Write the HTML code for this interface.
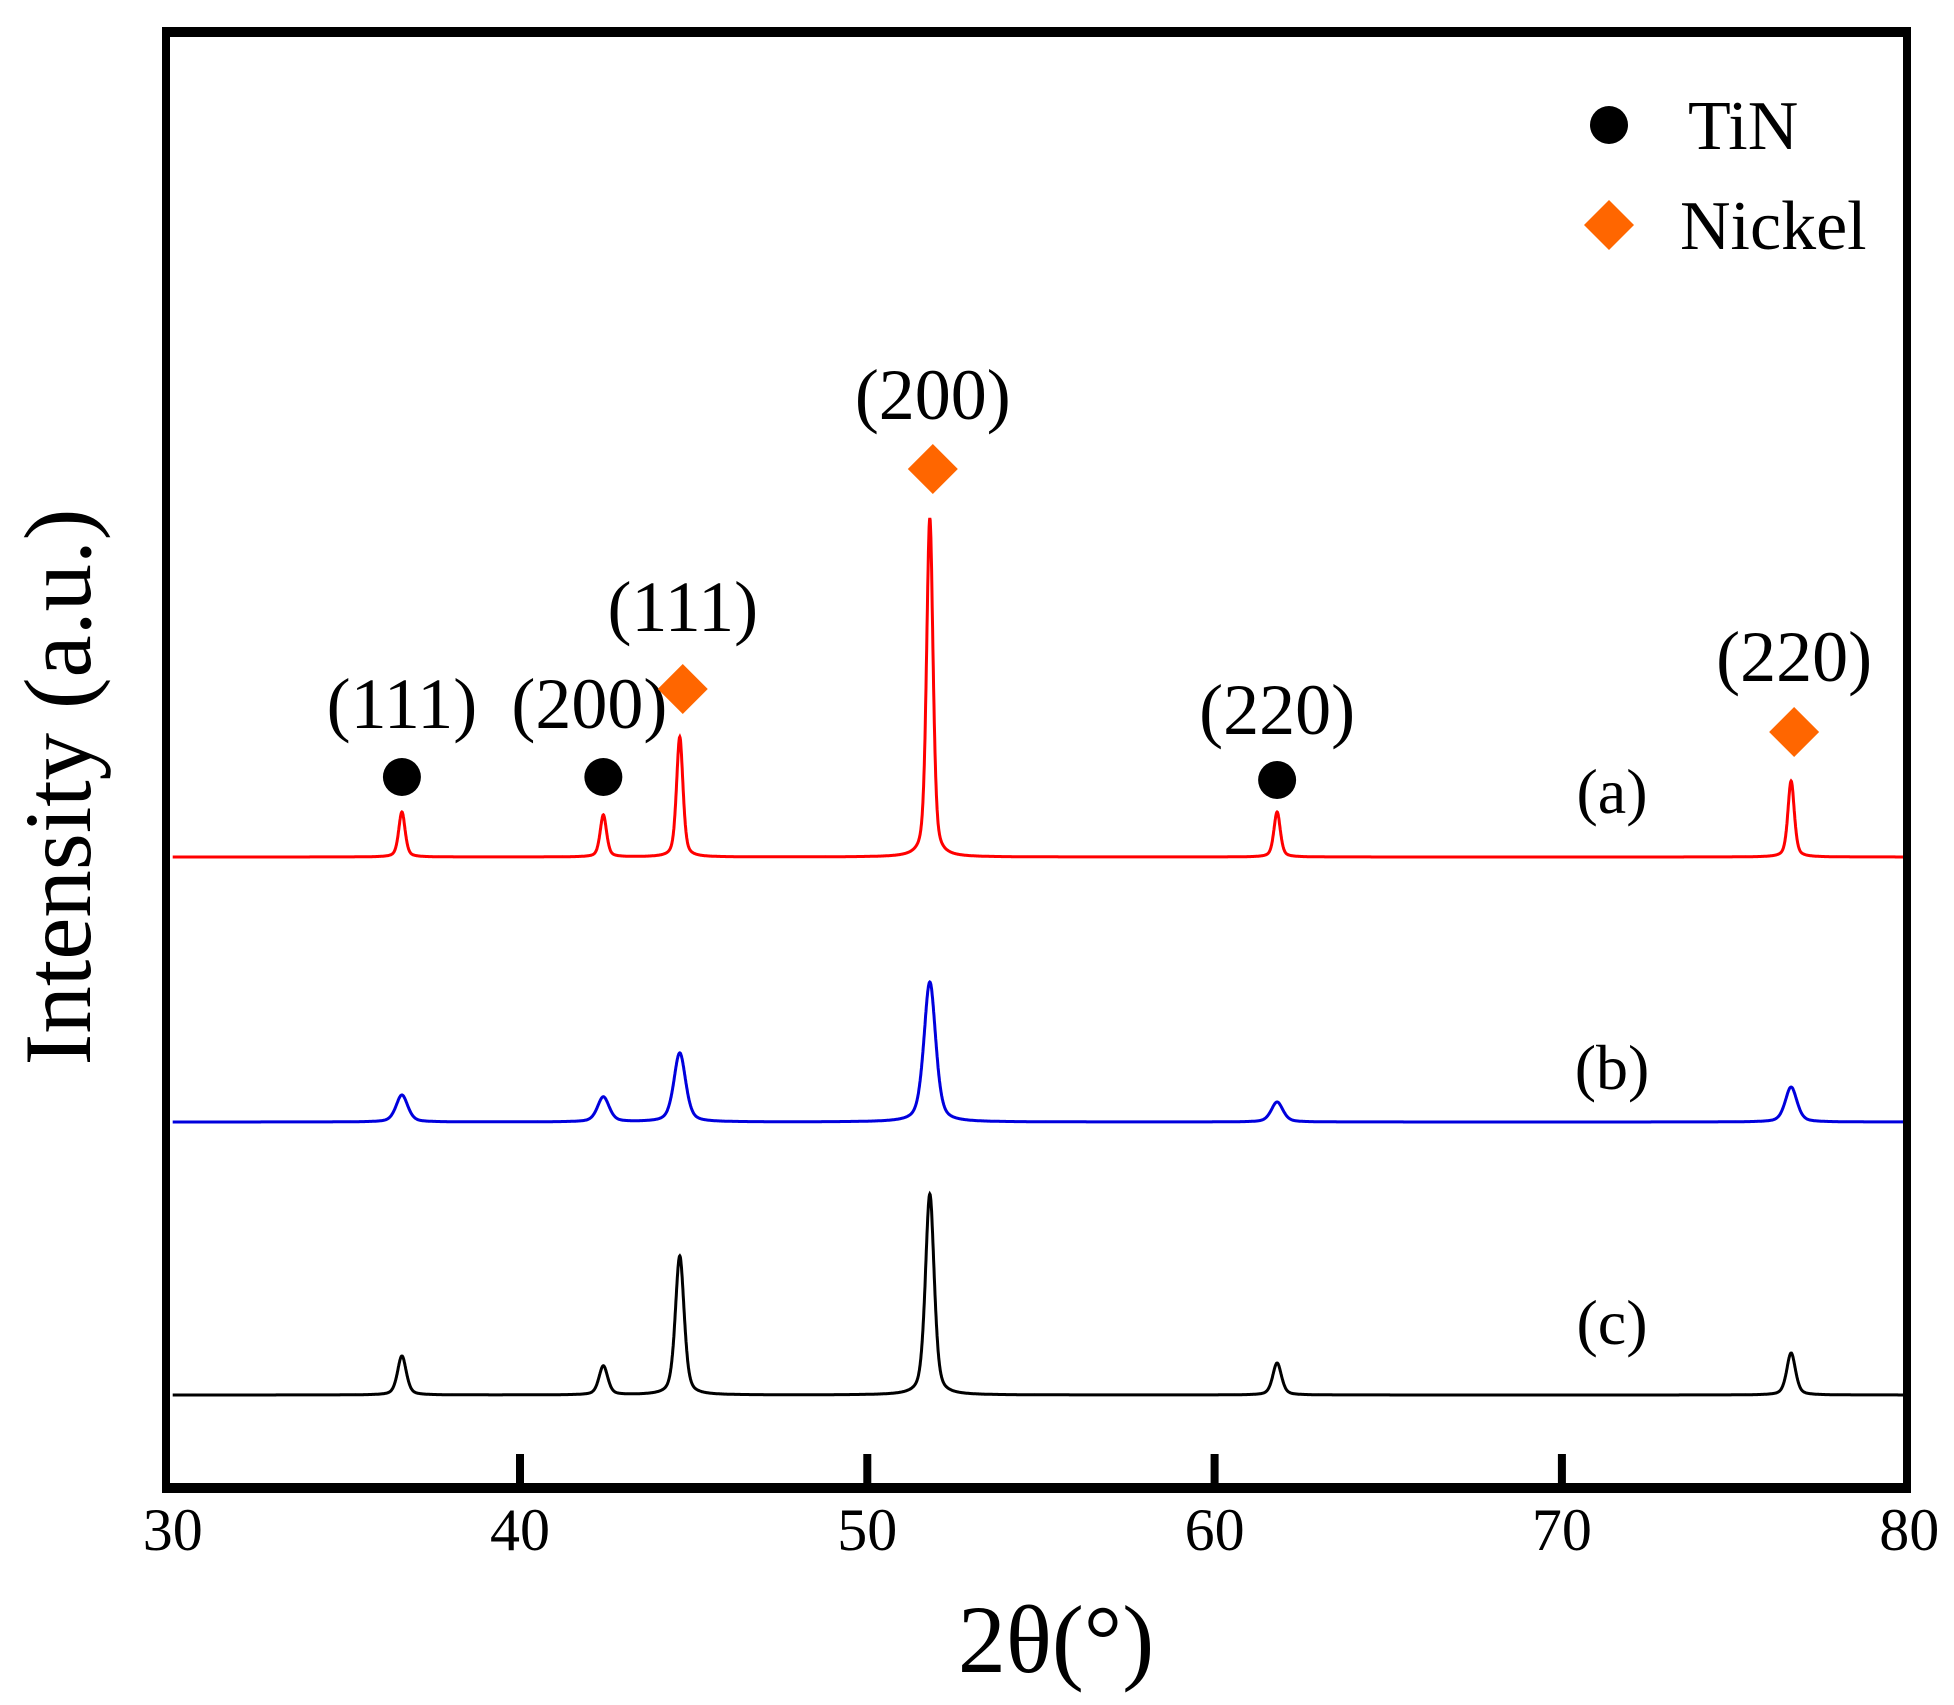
<!DOCTYPE html>
<html><head><meta charset="utf-8"><style>
html,body{margin:0;padding:0;background:#fff}
svg{display:block}
text{font-family:"Liberation Serif",serif;fill:#000}
</style></head><body>
<svg id="chart" width="1954" height="1705" viewBox="0 0 1954 1705" xmlns="http://www.w3.org/2000/svg">
<g id="curves"></g>
<g id="markers"></g>
<rect x="166" y="32" width="1741" height="1457" fill="none" stroke="#000" stroke-width="8"/>
<rect x="162" y="27" width="1749" height="10" fill="#000"/>
<rect x="162" y="1483" width="1749" height="10" fill="#000"/>
<g id="xticks"></g>
<text x="1056" y="1672" font-size="96" text-anchor="middle">2θ(°)</text>
<text transform="translate(90,787) rotate(-90)" font-size="95" text-anchor="middle">Intensity (a.u.)</text>
<g>
<circle cx="1609" cy="125" r="19" fill="#000"/>
<text x="1688" y="149" font-size="70">TiN</text>
<polygon points="1609,200 1634,225 1609,250 1584,225" fill="#FF6600"/>
<text x="1680" y="249" font-size="70">Nickel</text>
</g>
<text x="1612" y="813" font-size="64" text-anchor="middle">(a)</text>
<text x="1612" y="1089" font-size="64" text-anchor="middle">(b)</text>
<text x="1612" y="1344" font-size="64" text-anchor="middle">(c)</text>
</svg>
<script>
const peakPos = [36.6, 42.4, 44.6, 51.8, 61.8, 76.6];
const redHeights = [45, 42, 120, 339, 45, 76];
const blueHeights = [27, 25, 69, 140, 20, 35];
const blackHeights = [39, 29, 139, 201, 32, 42];
const tickVals = [30, 40, 50, 60, 70, 80];
const tinMarkers = [36.6, 42.4, 61.8];
const niMarkers = [44.6, 51.8, 76.6];
const tinLabels = ["(111)", "(200)", "(220)"];
const niLabels = ["(111)", "(200)", "(220)"];

const NS = "http://www.w3.org/2000/svg";
function xs(v){ return 520 + (v - 40) * 34.73; }
function mk(tag, attrs){ const e = document.createElementNS(NS, tag); for (const k in attrs) e.setAttribute(k, attrs[k]); return e; }

const series = [
  {h: redHeights, base: 857, w: 0.11, color: "#FF0000", name: "curve-a"},
  {h: blueHeights, base: 1122, w: 0.2, color: "#0000DD", name: "curve-b"},
  {h: blackHeights, base: 1395, w: 0.15, color: "#000000", name: "curve-c"}
];
const curves = document.getElementById('curves');
series.forEach(s => {
  let d = "";
  for (let v = 30.0; v <= 79.95; v += 0.01) {
    let y = 0;
    for (let i = 0; i < peakPos.length; i++) {
      const t = (v - peakPos[i]) / s.w;
      y += s.h[i] * (0.55 * Math.exp(-t * t * 0.693) + 0.45 / (1 + t * t));
    }
    d += (d ? "L" : "M") + xs(v).toFixed(1) + "," + (s.base - y).toFixed(1);
  }
  const p = mk('path', {d: d, fill: "none", stroke: s.color, "stroke-width": 3});
  
  
  curves.appendChild(p);
});

const xt = document.getElementById('xticks');
tickVals.forEach(v => {
  if (v > 30 && v < 80) {
    const r = mk('rect', {x: xs(v) - 4, y: 1454, width: 8, height: 32, fill: "#000"});
    
    
    xt.appendChild(r);
  }
  const t = mk('text', {x: xs(v), y: 1550, "font-size": 60, "text-anchor": "middle"});
  t.textContent = v;
  
  
  xt.appendChild(t);
});

const mg = document.getElementById('markers');
const tinY = [777, 777, 780];
const tinLY = [728, 728, 734];
tinMarkers.forEach((v, i) => {
  const c = mk('circle', {cx: xs(v), cy: tinY[i], r: 19, fill: "#000"});
  
  
  mg.appendChild(c);
  const t = mk('text', {x: xs(v) + (i === 1 ? -14 : 0), y: tinLY[i], "font-size": 72, "text-anchor": "middle"});
  t.textContent = tinLabels[i];
  
  
  mg.appendChild(t);
});
const niY = [689, 469, 732];
const niLY = [631, 419, 681];
niMarkers.forEach((v, i) => {
  const x = xs(v) + 3, y = niY[i];
  const p = mk('polygon', {points: `${x},${y-25} ${x+25},${y} ${x},${y+25} ${x-25},${y}`, fill: "#FF6600"});
  
  
  mg.appendChild(p);
  const t = mk('text', {x: x, y: niLY[i], "font-size": 72, "text-anchor": "middle"});
  t.textContent = niLabels[i];
  
  
  mg.appendChild(t);
});
</script>
</body></html>
